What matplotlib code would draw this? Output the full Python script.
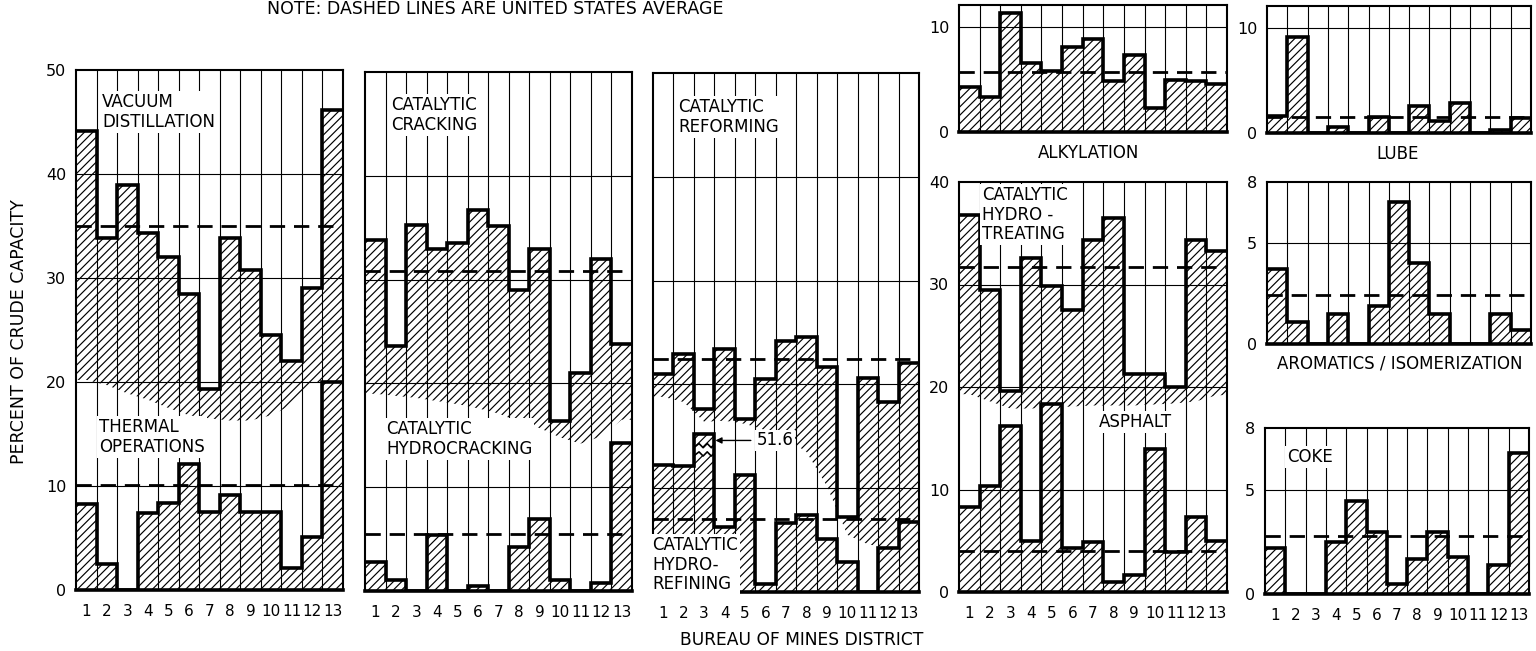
import numpy as np
import matplotlib.pyplot as plt

plt.rcParams['font.family'] = ['DejaVu Sans']
plt.rcParams['hatch.linewidth'] = 0.85

# Bureau of Mines districts 1..13
districts = np.arange(1, 14)
district_labels = [str(d) for d in districts]

# percent of crude capacity, per district, and the US average (dashed)
vacuum = [44.1, 33.8, 38.9, 34.3, 32.0, 28.5, 19.3, 33.8, 30.8, 24.5, 22.0, 29.0, 46.2]
vacuum_us = 35.0
thermal = [8.3, 2.5, 0, 7.4, 8.4, 12.1, 7.5, 9.1, 7.5, 7.5, 2.1, 5.1, 20.0]
thermal_us = 10.1

cat_cracking = [33.8, 23.6, 35.3, 32.9, 33.5, 36.7, 35.2, 29.0, 32.9, 16.4, 21.0, 32.0, 23.8]
cat_cracking_us = 30.8
hydrocracking = [2.8, 1.1, 0, 5.4, 0, 0.5, 0, 4.2, 6.9, 1.1, 0, 0.8, 14.3]
hydrocracking_us = 5.5

reforming = [21.0, 22.9, 17.6, 23.4, 16.7, 20.5, 24.2, 24.6, 21.7, 7.2, 20.6, 18.3, 22.1]
reforming_us = 22.4
hydrorefining = [12.2, 12.1, 51.6, 6.3, 11.3, 0.8, 6.6, 7.4, 5.1, 2.9, 0, 4.2, 6.7]
hydrorefining_us = 7.0

alkylation = [4.3, 3.3, 11.3, 6.6, 5.8, 8.1, 8.9, 4.9, 7.3, 2.3, 5.0, 4.9, 4.6]
alkylation_us = 5.7
hydrotreating = [36.8, 29.5, 19.6, 32.6, 29.9, 27.5, 34.3, 36.5, 21.3, 21.3, 20.0, 34.3, 33.3]
hydrotreating_us = 31.7
asphalt = [8.3, 10.3, 16.2, 5.0, 18.3, 4.3, 4.9, 1.0, 1.7, 14.0, 3.9, 7.3, 5.0]
asphalt_us = 4.0

lube = [1.6, 9.1, 0, 0.6, 0, 1.5, 0, 2.6, 1.1, 2.9, 0, 0.3, 1.4]
lube_us = 1.5
aromatics = [3.7, 1.1, 0, 1.5, 0, 1.9, 7.0, 4.0, 1.5, 0, 0, 1.5, 0.7]
aromatics_us = 2.4
coke = [2.2, 0, 0, 2.5, 4.5, 3.0, 0.5, 1.7, 3.0, 1.8, 0, 1.4, 6.8]
coke_us = 2.8

# lower edge of the shading under the upper series of each stacked panel
vacuum_fade = [20.2, 19.7, 18.9, 18.3, 17.5, 16.8, 16.5, 16.3, 16.3, 16.8, 17.8, 19.9, 20.0]
cracking_fade = [19.0, 18.8, 18.6, 18.3, 18.0, 17.6, 17.1, 16.3, 15.7, 14.8, 14.2, 14.9, 16.5]
reforming_fade = [18.8, 18.3, 16.4, 16.5, 16.2, 15.6, 14.8, 13.5, 10.2, 5.5, 4.6, 4.2, 6.7]
hydrotreating_fade = [19.3, 18.6, 17.9, 17.9, 18.0, 18.1, 18.2, 18.2, 18.2, 18.3, 18.4, 18.6, 19.2]

W, H = 1536, 651
fig = plt.figure(figsize=(W / 100, H / 100), dpi=100)
edges = np.arange(0.5, 14.5, 1.0)
DASH = (0, (5.5, 3.2))
HATCH = '////'
FS = 12


def box(x0, y0, x1, y1):
    return fig.add_axes([x0 / W, 1 - y1 / H, (x1 - x0) / W, (y1 - y0) / H])


def frame(ax, ymax, yticks, show_y=True, show_x=False):
    ax.set_xlim(0.5, 13.5)
    ax.set_ylim(0, ymax)
    for e in edges[1:-1]:
        ax.axvline(e, color='k', lw=0.8, zorder=1)
    for t in yticks[1:]:
        if t < ymax - 0.01:
            ax.axhline(t, color='k', lw=0.8, zorder=1)
    ax.set_yticks(yticks)
    ax.set_xticks(districts)
    ax.tick_params(length=0, labelsize=11.5, pad=7)
    if not show_y:
        ax.set_yticklabels([])
    if show_x:
        ax.set_xticklabels(district_labels)
        ax.tick_params(axis='x', pad=10, labelsize=11)
    else:
        ax.set_xticklabels([])
    for s in ax.spines.values():
        s.set_linewidth(1.5)
    ax.spines['bottom'].set_linewidth(2.6)


def bars(ax, vals, avg, shown=None):
    h = vals if shown is None else shown
    ax.bar(districts, h, width=1.0, fill=False, hatch=HATCH, linewidth=0,
           edgecolor='k', zorder=2)
    ax.stairs(h, edges, baseline=None, color='k', lw=2.6, zorder=4)
    ax.axhline(avg, color='k', lw=2, ls=DASH, zorder=5)


def fade_bars(ax, vals, fade, avg):
    xs = np.linspace(0.5, 13.5, 1301)
    idx = np.clip(np.floor(xs - 0.5 + 1e-9).astype(int), 0, 12)
    top = np.asarray(vals)[idx]
    bot = np.interp(xs, districts, fade)
    ax.fill_between(xs, bot, top, where=top > bot, facecolor='none', edgecolor='k',
                    hatch=HATCH, linewidth=0, zorder=2)
    ax.stairs(vals, edges, baseline=None, color='k', lw=2.6, zorder=4)
    ax.axhline(avg, color='k', lw=2, ls=DASH, zorder=5)


def label(x, y, s, ha='left', va='top', **kw):
    fig.text(x / W, 1 - y / H, s, ha=ha, va=va, fontsize=FS, linespacing=1.12,
             bbox=dict(fc='white', ec='none', pad=1.5), **kw)


# vacuum distillation / thermal operations
ax1 = box(76, 70, 343, 590)
frame(ax1, 50, [0, 10, 20, 30, 40, 50], show_y=True, show_x=True)
fade_bars(ax1, vacuum, vacuum_fade, vacuum_us)
bars(ax1, thermal, thermal_us)
label(102, 93, 'VACUUM\nDISTILLATION')
label(99, 418, 'THERMAL\nOPERATIONS')

# catalytic cracking / hydrocracking
ax2 = box(365, 72, 632, 591)
frame(ax2, 50, [0, 10, 20, 30, 40, 50], show_y=False, show_x=True)
fade_bars(ax2, cat_cracking, cracking_fade, cat_cracking_us)
bars(ax2, hydrocracking, hydrocracking_us)
label(391, 96, 'CATALYTIC\nCRACKING')
label(386, 420, 'CATALYTIC\nHYDROCRACKING')

# catalytic reforming / hydrorefining (district 3 bar broken)
ax3 = box(653, 73, 919, 592)
frame(ax3, 50, [0, 10, 20, 30, 40, 50], show_y=False, show_x=True)
fade_bars(ax3, reforming, reforming_fade, reforming_us)
cap = 15.2
shown = [min(v, cap) for v in hydrorefining]
bars(ax3, hydrorefining, hydrorefining_us, shown=shown)
ax3.fill_between([2.5, 3.5], [13.2, 13.2], [14.0, 14.0], color='white', lw=0, zorder=3)
zx = [2.55, 2.75, 2.95, 3.15, 3.35, 3.45]
ax3.plot(zx, [13.2, 13.5, 13.1, 13.5, 13.1, 13.3], color='k', lw=1.2, zorder=4)
ax3.plot(zx, [14.0, 14.3, 13.9, 14.3, 13.9, 14.1], color='k', lw=1.2, zorder=4)
ax3.annotate(f'{hydrorefining[2]:.1f}', xy=(3.55, 14.6), xytext=(5.55, 14.6),
             ha='left', va='center', fontsize=FS, zorder=6,
             bbox=dict(fc='white', ec='none', pad=1),
             arrowprops=dict(arrowstyle='-|>', color='k', lw=1, shrinkA=3, shrinkB=0,
                             mutation_scale=9))
label(678, 98, 'CATALYTIC\nREFORMING')
label(652, 536, 'CATALYTIC\nHYDRO-\nREFINING')

# alkylation
ax4 = box(959, 5, 1227, 132)
frame(ax4, 12.1, [0, 10])
bars(ax4, alkylation, alkylation_us)
fig.text(1089 / W, 1 - 153 / H, 'ALKYLATION', ha='center', va='center', fontsize=FS)

# catalytic hydrotreating / asphalt
ax5 = box(959, 182, 1227, 592)
frame(ax5, 40, [0, 10, 20, 30, 40], show_x=True)
fade_bars(ax5, hydrotreating, hydrotreating_fade, hydrotreating_us)
bars(ax5, asphalt, asphalt_us)
label(982, 186, 'CATALYTIC\nHYDRO -\nTREATING')
label(1099, 413, 'ASPHALT')

# lube
ax6 = box(1267, 6, 1531, 133)
frame(ax6, 12.1, [0, 10])
bars(ax6, lube, lube_us)
fig.text(1398 / W, 1 - 154 / H, 'LUBE', ha='center', va='center', fontsize=FS)

# aromatics / isomerization
ax7 = box(1267, 182, 1531, 344)
frame(ax7, 8, [0, 5, 8])
bars(ax7, aromatics, aromatics_us)
fig.text(1400 / W, 1 - 364 / H, 'AROMATICS / ISOMERIZATION', ha='center', va='center',
         fontsize=FS)

# coke
ax8 = box(1265, 428, 1529, 594)
frame(ax8, 8, [0, 5, 8], show_x=True)
bars(ax8, coke, coke_us)
label(1287, 448, 'COKE')

fig.text(19 / W, 1 - 332 / H, 'PERCENT OF CRUDE CAPACITY', rotation=90,
         ha='center', va='center', fontsize=12.5)
fig.text(802 / W, 1 - 640 / H, 'BUREAU OF MINES DISTRICT', ha='center', va='center',
         fontsize=12.3)
fig.text(495 / W, 1 - 9 / H, 'NOTE: DASHED LINES ARE UNITED STATES AVERAGE',
         ha='center', va='center', fontsize=12.5)

fig.savefig('out.png', dpi=100)
